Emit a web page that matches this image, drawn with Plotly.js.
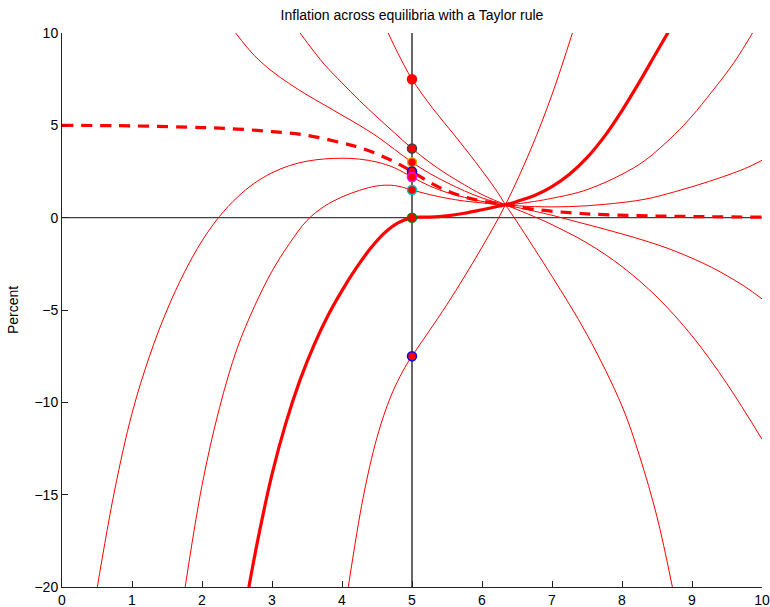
<!DOCTYPE html>
<html>
<head>
<meta charset="utf-8">
<script src="https://cdn.plot.ly/plotly-3.0.1.min.js"></script>
<style>html,body{margin:0;padding:0;background:#fff;}#chart{width:770px;height:607px;}</style>
</head>
<body>
<div id="chart"></div>
<script>
// Curves (x, y in percent)
var c75_x  = [4.66, 4.8, 5.0, 5.3, 5.6, 5.9, 6.2, 6.335, 6.5, 7.0, 7.5, 8.0, 8.25, 8.5, 8.72];
var c75_y  = [10, 8.9, 7.5, 5.9, 4.5, 3.05, 1.5, 0.70, -0.23, -3.18, -6.33, -10.2, -12.9, -16.2, -20];

var c375_x = [3.4, 3.75, 4.0, 4.25, 4.5, 4.75, 5.0, 5.25, 5.5, 5.75, 6.0, 6.335, 6.75, 7.0, 7.5, 8.0, 8.5, 9.0, 9.5, 10];
var c375_y = [10, 8.29, 7.3, 6.34, 5.45, 4.59, 3.75, 3.0, 2.35, 1.78, 1.25, 0.70, 0.05, -0.38, -1.37, -2.65, -4.3, -6.4, -9.0, -12.0];

var c30_x  = [2.48, 2.75, 3.0, 3.25, 3.5, 3.75, 4.0, 4.25, 4.5, 4.75, 5.0, 5.25, 5.5, 5.75, 6.0, 6.335, 6.75, 7.0, 7.38, 7.75, 8.33, 8.75, 9.28, 9.75, 10];
var c30_y  = [10, 8.77, 7.93, 7.25, 6.65, 6.1, 5.55, 5.0, 4.4, 3.7, 3.0, 2.4, 1.9, 1.45, 1.07, 0.70, 0.35, 0.13, -0.25, -0.62, -1.25, -1.8, -2.69, -3.72, -4.4];

var dash_x = [0, 1, 2, 2.5, 3.0, 3.5, 4.0, 4.25, 4.5, 4.75, 5.0, 5.25, 5.5, 5.75, 6.0, 6.335, 6.75, 7.25, 7.75, 8.5, 9.25, 10];
var dash_y = [5.0, 4.97, 4.88, 4.8, 4.66, 4.46, 4.05, 3.8, 3.45, 3.02, 2.5, 1.92, 1.45, 1.12, 0.9, 0.70, 0.45, 0.27, 0.16, 0.09, 0.05, 0.03];

var c22_x  = [0.5, 0.75, 1.0, 1.25, 1.5, 1.75, 2.0, 2.25, 2.5, 2.75, 3.0, 3.25, 3.5, 3.75, 4.0, 4.25, 4.5, 4.75, 5.0, 5.25, 5.5, 5.75, 6.0, 6.335, 6.75, 7.25, 7.75, 8.33, 8.75, 9.25, 9.75, 10];
var c22_y  = [-20.1, -14.8, -10.6, -7.5, -5.0, -2.95, -1.26, 0.07, 1.09, 1.87, 2.43, 2.82, 3.06, 3.18, 3.22, 3.17, 3.01, 2.7, 2.2, 1.72, 1.36, 1.1, 0.88, 0.70, 0.6, 0.6, 0.72, 1.0, 1.4, 1.97, 2.65, 3.1];

var c15_x  = [1.76, 2.0, 2.25, 2.5, 2.75, 3.0, 3.25, 3.5, 3.75, 4.0, 4.25, 4.5, 4.75, 5.0, 5.25, 5.5, 5.75, 6.0, 6.335, 6.75, 7.0, 7.38, 7.66, 8.0, 8.33, 8.75, 9.0, 9.28, 9.6, 9.88];
var c15_y  = [-20, -14.5, -10.3, -7.1, -4.8, -2.9, -1.4, -0.15, 0.62, 1.12, 1.48, 1.72, 1.74, 1.5, 1.25, 1.05, 0.9, 0.8, 0.70, 0.88, 1.05, 1.37, 1.75, 2.35, 3.1, 4.5, 5.5, 6.8, 8.4, 10.1];

var c0_x   = [2.67, 2.8, 3.0, 3.2, 3.4, 3.6, 3.8, 4.0, 4.2, 4.4, 4.6, 4.8, 5.0, 5.25, 5.5, 5.75, 6.0, 6.25, 6.335, 6.5, 6.75, 7.0, 7.25, 7.5, 7.75, 8.0, 8.25, 8.5, 8.7];
var c0_y   = [-20, -17.4, -13.9, -11.1, -8.8, -6.9, -5.3, -3.95, -2.75, -1.7, -0.85, -0.28, 0, 0.03, 0.1, 0.24, 0.43, 0.63, 0.70, 0.88, 1.2, 1.68, 2.35, 3.25, 4.4, 5.8, 7.35, 9.0, 10.3];

var cm75_x = [4.09, 4.3, 4.5, 4.7, 4.9, 5.0, 5.5, 6.0, 6.335, 6.7, 7.0, 7.3];
var cm75_y = [-20, -15.2, -11.9, -9.65, -8.1, -7.5, -4.7, -1.6, 0.70, 3.73, 6.66, 10.1];

// Equilibrium values at x = 5
var dot_x = [5, 5, 5, 5, 5, 5, 5, 5];
var dot_y = [7.5, 3.75, 3.0, 2.5, 2.2, 1.5, 0, -7.5];
var dot_edge = ['#ff0000', '#404040', '#e0b000', '#0000ff', '#ff00ff', '#00c0c0', '#008000', '#0000ff'];

// Reference axes
var vline_x = [5, 5], vline_y = [-20, 10];
var hline_x = [0, 10], hline_y = [0, 0];

var xticks = [0,1,2,3,4,5,6,7,8,9,10];
var yticks = [-20,-15,-10,-5,0,5,10];

function thin(x, y) {
  return {x: x, y: y, type: 'scatter', mode: 'lines', hoverinfo: 'skip',
          line: {color: '#ff0000', width: 1, shape: 'spline', smoothing: 1}};
}

var traces = [
  {x: hline_x, y: hline_y, mode: 'lines', line: {color: '#404040', width: 1.2}},
  {x: vline_x, y: vline_y, mode: 'lines', line: {color: '#000000', width: 1.2}},
  thin(c75_x, c75_y),
  thin(c375_x, c375_y),
  thin(c30_x, c30_y),
  thin(c22_x, c22_y),
  thin(c15_x, c15_y),
  thin(cm75_x, cm75_y),
  {x: dash_x, y: dash_y, mode: 'lines', line: {color: '#ff0000', width: 3.2, dash: '11px,8px', shape: 'spline', smoothing: 1}},
  {x: c0_x, y: c0_y, mode: 'lines', line: {color: '#ff0000', width: 3.2, shape: 'spline', smoothing: 1}},
  {x: dot_x, y: dot_y, mode: 'markers',
   marker: {size: 9, color: '#ff0000', line: {color: dot_edge, width: 1.5}}}
];

var font = {family: 'Liberation Sans, Arial, sans-serif', size: 14, color: '#000'};

var layout = {
  width: 770, height: 607,
  margin: {l: 62, r: 8, t: 33, b: 20, pad: 0},
  paper_bgcolor: '#fff', plot_bgcolor: '#fff',
  showlegend: false,
  font: font,
  title: {text: 'Inflation across equilibria with a Taylor rule', font: {family: font.family, size: 14, color: '#000'},
          x: 0.5, xref: 'paper', y: 1 - 15/607, yref: 'container', yanchor: 'middle'},
  xaxis: {range: [0, 10], tickvals: xticks, ticks: 'inside', ticklen: 6, tickcolor: '#222',
          showline: true, linecolor: '#222', linewidth: 1, showgrid: false, zeroline: false,
          mirror: false, tickfont: font, ticklabeloverflow: 'allow'},
  yaxis: {range: [-20, 10], tickvals: yticks, ticks: 'inside', ticklen: 6, tickcolor: '#222',
          showline: true, linecolor: '#222', linewidth: 1, showgrid: false, zeroline: false,
          mirror: false, tickfont: font, ticklabeloverflow: 'allow',
          title: {text: 'Percent', font: font, standoff: 12}}
};

Plotly.newPlot('chart', traces, layout, {displayModeBar: false, staticPlot: true});
</script>
</body>
</html>
